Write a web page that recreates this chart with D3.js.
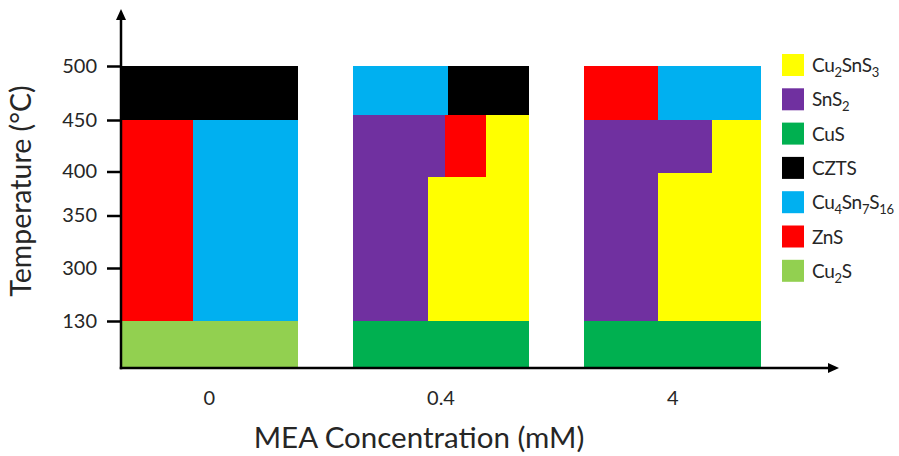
<!DOCTYPE html>
<html>
<head>
<meta charset="utf-8">
<script src="https://cdn.jsdelivr.net/npm/d3@7"></script>
<style>
  html, body { margin: 0; padding: 0; background: #fff; }
  svg text { font-family: Lato, "Open Sans", sans-serif; fill: #262626; }
</style>
</head>
<body>
<svg id="chart" width="899" height="456"></svg>
<script>
// MEA concentration groups along the x axis (mM)
const concentrations = ["0", "0.4", "4"];
// Temperature levels marked on the y axis (°C)
const temperatureTicks = [130, 300, 350, 400, 450, 500];
// Temperature at the foot of the y axis
const axisFloor = 25;

// Phases, in legend order, with their fill colours
const phaseNames = ["Cu2SnS3", "SnS2", "CuS", "CZTS", "Cu4Sn7S16", "ZnS", "Cu2S"];
const phaseColors = ["#FFFF00", "#7030A0", "#00B050", "#000000", "#00B0F0", "#FF0000", "#92D050"];
// Legend labels as [text, isSubscript] pieces
const phaseLabels = [
  [["Cu", 0], ["2", 1], ["SnS", 0], ["3", 1]],
  [["SnS", 0], ["2", 1]],
  [["CuS", 0]],
  [["CZTS", 0]],
  [["Cu", 0], ["4", 1], ["Sn", 0], ["7", 1], ["S", 0], ["16", 1]],
  [["ZnS", 0]],
  [["Cu", 0], ["2", 1], ["S", 0]]
];

// Phase regions for each concentration:
// share = left/right fraction of the column, temp = lower/upper temperature
const regionsAt0 = [
  { phase: "Cu2S",      share: [0, 1],         temp: [axisFloor, 130] },
  { phase: "ZnS",       share: [0, 0.406],     temp: [130, 450] },
  { phase: "Cu4Sn7S16", share: [0.406, 1],     temp: [130, 450] },
  { phase: "CZTS",      share: [0, 1],         temp: [450, 500] }
];
const regionsAt04 = [
  { phase: "CuS",       share: [0, 1],         temp: [axisFloor, 130] },
  { phase: "SnS2",      share: [0, 0.424],     temp: [130, 455] },
  { phase: "SnS2",      share: [0.424, 0.525], temp: [394, 455] },
  { phase: "Cu2SnS3",   share: [0.424, 1],     temp: [130, 394] },
  { phase: "Cu2SnS3",   share: [0.757, 1],     temp: [394, 455] },
  { phase: "ZnS",       share: [0.525, 0.757], temp: [394, 455] },
  { phase: "Cu4Sn7S16", share: [0, 0.537],     temp: [455, 500] },
  { phase: "CZTS",      share: [0.537, 1],     temp: [455, 500] }
];
const regionsAt4 = [
  { phase: "CuS",       share: [0, 1],         temp: [axisFloor, 130] },
  { phase: "SnS2",      share: [0, 0.416],     temp: [130, 450] },
  { phase: "SnS2",      share: [0.416, 0.725], temp: [398, 450] },
  { phase: "Cu2SnS3",   share: [0.416, 1],     temp: [130, 398] },
  { phase: "Cu2SnS3",   share: [0.725, 1],     temp: [398, 450] },
  { phase: "ZnS",       share: [0, 0.416],     temp: [450, 500] },
  { phase: "Cu4Sn7S16", share: [0.416, 1],     temp: [450, 500] }
];

const regionsByConcentration = { "0": regionsAt0, "0.4": regionsAt04, "4": regionsAt4 };

const svg = d3.select("#chart");

const color = d3.scaleOrdinal().domain(phaseNames).range(phaseColors);

// Temperature axis: unevenly spaced levels
const y = d3.scaleLinear()
  .domain([axisFloor, ...temperatureTicks])
  .range([368, 321, 268, 215.5, 171.5, 120, 66]);

const x = d3.scaleBand()
  .domain(concentrations)
  .range([121, 761])
  .paddingInner(0.238)
  .paddingOuter(0);

const share = d3.scaleLinear().domain([0, 1]).range([0, x.bandwidth()]);

// Phase blocks
const columns = svg.append("g")
  .selectAll("g")
  .data(concentrations)
  .join("g")
  .attr("transform", c => `translate(${x(c)},0)`);

columns.selectAll("rect")
  .data(c => regionsByConcentration[c])
  .join("rect")
  .attr("x", d => share(d.share[0]))
  .attr("width", d => share(d.share[1]) - share(d.share[0]))
  .attr("y", d => y(d.temp[1]))
  .attr("height", d => y(d.temp[0]) - y(d.temp[1]))
  .attr("fill", d => color(d.phase))
  .attr("shape-rendering", "crispEdges");

// Y axis ticks and labels
const yAxis = svg.append("g")
  .attr("transform", `translate(${x.range()[0]},0)`)
  .call(d3.axisLeft(y).tickValues(temperatureTicks).tickSize(14).tickPadding(10).tickFormat(d3.format("d")));
yAxis.select(".domain").remove();
yAxis.selectAll(".tick line").attr("stroke", "#000").attr("stroke-width", 2.5);
yAxis.selectAll(".tick text")
  .attr("font-size", 20)
  .attr("fill", "#262626")
  .attr("font-family", "Lato, sans-serif");

// X axis labels
const xAxis = svg.append("g")
  .attr("transform", `translate(0,${y(axisFloor)})`)
  .call(d3.axisBottom(x).tickSize(0).tickPadding(23));
xAxis.select(".domain").remove();
xAxis.selectAll(".tick text")
  .attr("font-size", 20)
  .attr("fill", "#262626")
  .attr("font-family", "Lato, sans-serif");

// Axis lines with arrowheads
const x0 = x.range()[0];
const yBase = y(axisFloor);
const axes = svg.append("g").attr("stroke", "#000").attr("stroke-width", 2.5);
axes.append("line").attr("x1", x0).attr("x2", x0).attr("y1", yBase + 1.25).attr("y2", 18);
axes.append("line").attr("x1", x0 - 1.25).attr("x2", 830).attr("y1", yBase).attr("y2", yBase);
svg.append("path")
  .attr("d", d3.line()([[x0, 9], [x0 + 5, 20], [x0 - 5, 20]]) + "Z")
  .attr("fill", "#000");
svg.append("path")
  .attr("d", d3.line()([[839, yBase], [828, yBase - 5], [828, yBase + 5]]) + "Z")
  .attr("fill", "#000");

// Axis titles
svg.append("text")
  .attr("transform", "translate(31,191) rotate(-90)")
  .attr("text-anchor", "middle")
  .attr("font-size", 28.5)
  .text("Temperature (°C)");

svg.append("text")
  .attr("x", 419)
  .attr("y", 448)
  .attr("text-anchor", "middle")
  .attr("font-size", 29.5)
  .text("MEA Concentration (mM)");

// Legend
const legend = svg.append("g").attr("transform", "translate(782,54)");
const items = legend.selectAll("g")
  .data(phaseNames)
  .join("g")
  .attr("transform", (d, i) => `translate(0,${i * 34.3})`);

items.append("rect")
  .attr("width", 22)
  .attr("height", 22)
  .attr("fill", d => color(d));

items.append("text")
  .attr("x", 30)
  .attr("y", 18)
  .attr("font-size", 19)
  .attr("letter-spacing", -0.3)
  .each(function (d, i) {
    const t = d3.select(this);
    let shifted = false;
    phaseLabels[i].forEach(([txt, sub]) => {
      const span = t.append("tspan").text(txt);
      if (sub) {
        span.attr("font-size", 13).attr("dy", shifted ? 0 : 5);
        shifted = true;
      } else {
        span.attr("dy", shifted ? -5 : 0);
        shifted = false;
      }
    });
  });
</script>
</body>
</html>
